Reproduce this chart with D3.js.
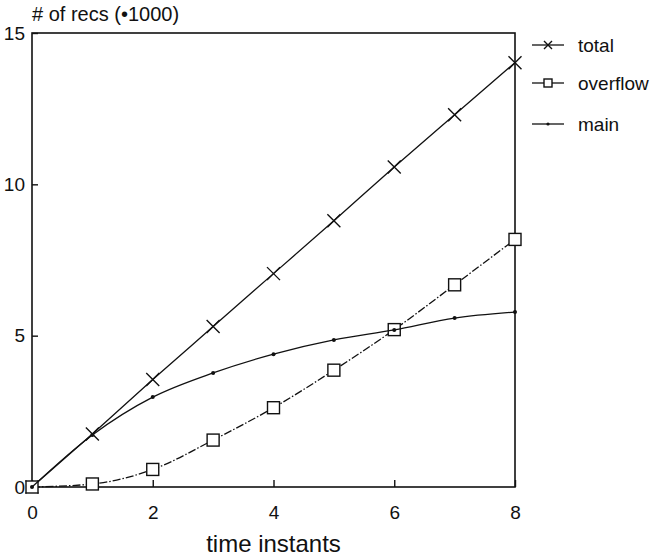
<!DOCTYPE html>
<html>
<head>
<meta charset="utf-8">
<script src="https://cdn.jsdelivr.net/npm/d3@7"></script>
<style>
  body { margin: 0; background: #fff; }
  text { font-family: "Liberation Sans", Arial, sans-serif; fill: #111; }
</style>
</head>
<body>
<div class="chart"></div>
<script>
// data (values in thousands of records)
const times = [0, 1, 2, 3, 4, 5, 6, 7, 8]
const total = [0, 1.75, 3.55, 5.3, 7.05, 8.8, 10.57, 12.3, 14.02]
const overflow = [0, 0.1, 0.58, 1.55, 2.62, 3.86, 5.2, 6.68, 8.18]
const main = [0, 1.72, 2.97, 3.77, 4.39, 4.86, 5.19, 5.58, 5.78]
const xTicks = [0, 2, 4, 6, 8]
const yTicks = [0, 5, 10, 15]

const series = [
  { name: "total", values: total, marker: "cross", dash: null },
  { name: "overflow", values: overflow, marker: "square", dash: "8,2,1.5,2" },
  { name: "main", values: main, marker: "dot", dash: null }
]

// set the dimensions and margins of the graph
const w = 650
const h = 558
const margin = { top: 33, right: 135, bottom: 71, left: 32 }

const svg = d3.select(".chart")
  .append("svg")
    .attr("width", w)
    .attr("height", h)

const x = d3.scaleLinear()
  .domain([0, 8])
  .range([margin.left, w - margin.right])

const y = d3.scaleLinear()
  .domain([0, 15])
  .range([h - margin.bottom, margin.top])

// frame around the plot
svg.append("rect")
  .attr("x", x(0))
  .attr("y", y(15))
  .attr("width", x(8) - x(0))
  .attr("height", y(0) - y(15))
  .attr("fill", "none")
  .attr("stroke", "#111")
  .attr("stroke-width", 1.6)

// axes, ticks point inwards
const xAxis = svg.append("g")
  .attr("transform", `translate(0,${y(0)})`)
  .call(d3.axisBottom(x).tickValues(xTicks).tickSizeInner(-7).tickSizeOuter(0).tickPadding(19))
xAxis.select(".domain").remove()
xAxis.selectAll("text").style("font-size", "19px")
xAxis.selectAll("line").attr("stroke", "#111").attr("stroke-width", 1.4)

const yAxis = svg.append("g")
  .attr("transform", `translate(${x(0)},0)`)
  .call(d3.axisLeft(y).tickValues(yTicks).tickSizeInner(-6).tickSizeOuter(0).tickPadding(7))
yAxis.select(".domain").remove()
yAxis.selectAll("text").style("font-size", "19px")
yAxis.selectAll("line").attr("stroke", "#111").attr("stroke-width", 1.4)

// titles
svg.append("text")
  .attr("x", 32)
  .attr("y", 21)
  .style("font-size", "20px")
  .text("# of recs (\u20221000)")

svg.append("text")
  .attr("x", (x(0) + x(8)) / 2)
  .attr("y", 552)
  .attr("text-anchor", "middle")
  .style("font-size", "24px")
  .text("time instants")

// draw one marker
function drawMarker(g, type, cx, cy, s) {
  if (type === "cross") {
    g.append("path")
      .attr("d", `M${cx - s},${cy - s}L${cx + s},${cy + s}M${cx - s},${cy + s}L${cx + s},${cy - s}`)
      .attr("stroke", "#111").attr("stroke-width", 1.4).attr("fill", "none")
  } else if (type === "square") {
    g.append("rect")
      .attr("x", cx - s).attr("y", cy - s)
      .attr("width", 2 * s).attr("height", 2 * s)
      .attr("fill", "#fff").attr("stroke", "#111").attr("stroke-width", 1.4)
  } else {
    g.append("circle")
      .attr("cx", cx).attr("cy", cy).attr("r", s * 0.4)
      .attr("fill", "#111")
  }
}

const line = d3.line()
  .x((d, i) => x(times[i]))
  .y(d => y(d))
  .curve(d3.curveMonotoneX)

series.forEach(s => {
  const g = svg.append("g")
  g.append("path")
    .datum(s.values)
    .attr("d", line)
    .attr("fill", "none")
    .attr("stroke", "#111")
    .attr("stroke-width", 1.3)
    .attr("stroke-dasharray", s.dash)
  s.values.forEach((v, i) => drawMarker(g, s.marker, x(times[i]), y(v), s.marker === "cross" ? 6.5 : (s.marker === "dot" ? 5 : 6)))
})

// legend
const legendY = [45, 83, 124]
series.forEach((s, i) => {
  const g = svg.append("g")
  g.append("line")
    .attr("x1", 532).attr("x2", 564)
    .attr("y1", legendY[i]).attr("y2", legendY[i])
    .attr("stroke", "#111").attr("stroke-width", 1.3)
  drawMarker(g, s.marker, 548, legendY[i], 4)
  g.append("text")
    .attr("x", 578)
    .attr("y", legendY[i])
    .attr("dy", "0.35em")
    .style("font-size", "19px")
    .text(s.name)
})
</script>
</body>
</html>
